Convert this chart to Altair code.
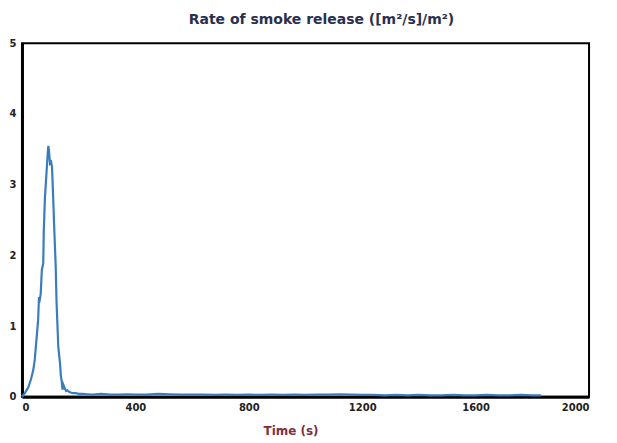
import altair as alt
import pandas as pd

# Time (s) and rate of smoke release
time_s = [
    0, 10, 22, 32, 40, 45, 48, 52, 57, 60, 63, 66, 70, 75, 77, 81, 87, 91, 93, 95,
    99, 103, 106, 110, 114, 119, 122, 128, 134, 137, 140, 143, 146, 149, 152, 156,
    160, 166, 172, 180, 190, 200, 215, 230, 250, 280, 310, 340, 370, 400, 440, 480,
    520, 560, 600, 640, 680, 720, 760, 800, 840, 880, 920, 960, 1000, 1040, 1080,
    1120, 1160, 1200, 1240, 1280, 1320, 1360, 1400, 1440, 1480, 1520, 1560, 1600,
    1640, 1680, 1720, 1760, 1800, 1830,
]
smoke_rate = [
    0.0, 0.05, 0.13, 0.25, 0.38, 0.52, 0.66, 0.85, 1.09, 1.41, 1.38, 1.45, 1.79,
    1.89, 2.36, 2.82, 3.2, 3.45, 3.55, 3.49, 3.3, 3.32, 3.25, 2.82, 2.36, 1.84,
    1.33, 0.71, 0.48, 0.30, 0.22, 0.10, 0.17, 0.14, 0.11, 0.08, 0.09, 0.07, 0.06,
    0.05, 0.05, 0.04, 0.04, 0.035, 0.03, 0.04, 0.03, 0.03, 0.035, 0.03, 0.03, 0.04,
    0.035, 0.03, 0.03, 0.03, 0.025, 0.03, 0.025, 0.03, 0.025, 0.03, 0.025, 0.03,
    0.025, 0.03, 0.03, 0.035, 0.03, 0.025, 0.025, 0.02, 0.025, 0.02, 0.025, 0.02,
    0.02, 0.025, 0.02, 0.02, 0.025, 0.02, 0.02, 0.025, 0.02, 0.02,
]

df = pd.DataFrame({"time": time_s, "rate": smoke_rate})

chart = (
    alt.Chart(df)
    .mark_line(color="#3a7dbf", strokeWidth=2.2)
    .encode(
        x=alt.X(
            "time:Q",
            title="Time (s)",
            scale=alt.Scale(domain=[0, 2000], nice=False),
            axis=alt.Axis(
                values=[0, 400, 800, 1200, 1600, 2000],
                format="d",
                titleColor="#7d2f3f",
                titleX=269,
                titleAlign="center",
            ),
        ),
        y=alt.Y(
            "rate:Q",
            title=None,
            scale=alt.Scale(domain=[0, 5], nice=False),
            axis=alt.Axis(values=[0, 1, 2, 3, 4, 5], format="d"),
        ),
    )
    .properties(
        width=568,
        height=354,
        title=alt.TitleParams("Rate of smoke release ([m²/s]/m²)", dx=16),
        autosize=alt.AutoSizeParams(type="none"),
        padding={"left": 14, "top": 35, "right": 20, "bottom": 46},
    )
    .configure_view(stroke="black", strokeWidth=2)
    .configure_axis(
        grid=False,
        ticks=False,
        domainColor="black",
        domainWidth=3,
        labelFont="DejaVu Sans",
        labelFontSize=10,
        labelFontWeight="bold",
        labelColor="#222222",
        labelPadding=6,
        titleFont="DejaVu Sans",
        titleFontSize=12,
        titleFontWeight="bold",
    )
    .configure_axisX(titlePadding=13)
    .configure_title(
        font="DejaVu Sans",
        fontSize=14,
        fontWeight="bold",
        color="#2a2f4f",
        offset=11,
    )
)

chart.save("out.html", embed_options={"renderer": "svg", "actions": False})
